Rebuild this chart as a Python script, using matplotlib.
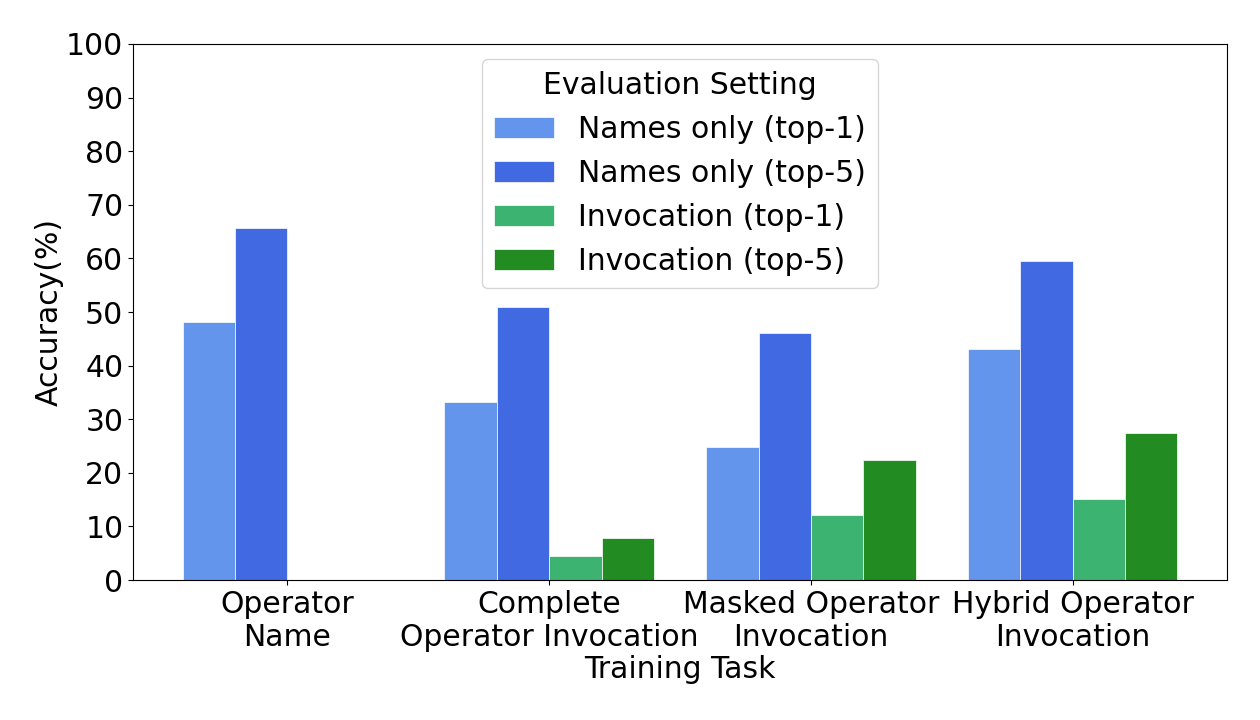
import matplotlib
matplotlib.use("Agg")
import matplotlib.pyplot as plt
import numpy as np

categories = ["Operator\nName", "Complete\nOperator Invocation",
              "Masked Operator\nInvocation", "Hybrid Operator\nInvocation"]
series_names = ["Names only (top-1)", "Names only (top-5)",
                "Invocation (top-1)", "Invocation (top-5)"]
names_top1 = [48.1, 33.3, 24.8, 43.1]
names_top5 = [65.7, 50.9, 46.0, 59.6]
inv_top1 = [0, 4.5, 12.1, 15.2]
inv_top5 = [0, 7.8, 22.4, 27.5]
colors = ["#6495ED", "#4169E1", "#3CB371", "#228B22"]

FS = 21.5
fig = plt.figure(figsize=(12.6, 7.2), dpi=100)
ax = fig.add_axes([0.1056, 0.1944, 0.8682, 0.7445])

x = np.arange(len(categories))
width = 0.2
all_series = [names_top1, names_top5, inv_top1, inv_top5]
for i, (vals, name, c) in enumerate(zip(all_series, series_names, colors)):
    ax.bar(x + (i - 1.5) * width, vals, width, label=name, color=c,
           edgecolor="white", linewidth=0.5)

ax.set_ylim(0, 100)
ax.set_yticks(range(0, 101, 10))
ax.set_xticks(x)
ax.set_xticklabels(categories, fontsize=FS)
ax.tick_params(axis="y", labelsize=FS)
ax.set_ylabel("Accuracy(%)", fontsize=FS, labelpad=2)
ax.set_xlabel("Training Task", fontsize=FS, labelpad=2)
ax.legend(title="Evaluation Setting", fontsize=FS, title_fontsize=FS,
          loc="upper center")

fig.savefig("out.png", dpi=100)
